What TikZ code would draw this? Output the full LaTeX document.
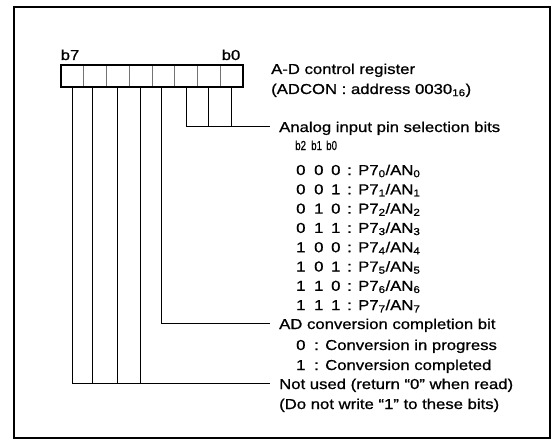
\documentclass[tikz,border=0pt]{standalone}
\usepackage{fontspec}
\setmainfont[FakeStretch=1.16,FakeBold=0.9]{Liberation Sans}
\newfontfamily\condfont[FakeStretch=0.75,FakeBold=0.6]{Liberation Sans}
\newcommand{\lowix}[1]{\textsubscript{#1}}
\newcommand{\selrow}[4]{\makebox[18pt][l]{#1}\makebox[17pt][l]{#2}\makebox[16pt][l]{#3}\makebox[11pt][l]{:}P7\lowix{#4}/AN\lowix{#4}}
\begin{document}
\begin{tikzpicture}[x=1pt,y=-1pt,
  txt/.style={anchor=base west,inner sep=0pt,font=\fontsize{14.4}{16}\selectfont},
  cell/.style={draw=black!55,line width=0.9pt,minimum width=22.75pt,minimum height=22pt,inner sep=0pt,outer sep=0pt},
  wire/.style={line width=1pt,black}]
\useasboundingbox (0,0) rectangle (556,441);
% frame
\draw[line width=2pt] (13.5,7.5) rectangle (549.5,437.5);
% register cells
\foreach \i/\n in {0/7,1/6,2/5,3/4,4/3,5/2,6/1,7/0}{
  \node[cell] (c\n) at ({61+22.75*\i+11.375},76) {};
}
\draw[line width=1.8pt] (c7.north west) rectangle (c0.south east);
\node[txt,anchor=base] (lb7) at (70,60) {b7};
\node[txt,anchor=base] (lb0) at (231,60) {b0};
% texts
\node[txt] (reg) at (271,74) {A-D control register};
\node[txt] (adr) at (271,94) {(ADCON : address 0030\lowix{16})};
\node[txt] (ana) at (279,132) {Analog input pin selection bits};
\node[anchor=base west,inner sep=0pt,font=\condfont\fontsize{13}{14}\selectfont] (hdr) at (295,150)
  {\makebox[16pt][l]{b2}\makebox[15pt][l]{b1}b0};
\foreach \k/\a/\b/\c in {0/0/0/0,1/0/0/1,2/0/1/0,3/0/1/1,4/1/0/0,5/1/0/1,6/1/1/0,7/1/1/1}{
  \node[txt] (r\k) at (296,{175+19.3*\k}) {\selrow{\a}{\b}{\c}{\k}};
}
\node[txt] (adc) at (279,329) {AD conversion completion bit};
\node[txt] (ad0) at (296,350) {\makebox[18pt][l]{0}\makebox[11pt][l]{:}Conversion in progress};
\node[txt] (ad1) at (296,370) {\makebox[18pt][l]{1}\makebox[11pt][l]{:}Conversion completed};
\node[txt] (nu1) at (279,389) {Not used (return “0” when read)};
\node[txt] (nu2) at (279,409) {(Do not write “1” to these bits)};
% connector end points
\coordinate (ea) at (270,126);
\coordinate (eb) at (270,323);
\coordinate (ec) at (270,383);
% analog selection bits
\draw[wire] (c2.south) -- (c2.south |- ea) -- (ea);
\draw[wire] (c1.south) -- (c1.south |- ea);
\draw[wire] (c0.south) -- (c0.south |- ea);
% AD conversion completion bit
\draw[wire] ([xshift=-2.3pt]c3.south) -- ([xshift=-2.3pt]c3.south |- eb) -- (eb);
% not used bits
\draw[wire] (c7.south) -- (c7.south |- ec) -- (ec);
\draw[wire] ([xshift=-2.8pt]c6.south) -- ([xshift=-2.8pt]c6.south |- ec);
\draw[wire] (c5.south) -- (c5.south |- ec);
\draw[wire] (c4.south) -- (c4.south |- ec);
\end{tikzpicture}
\end{document}
